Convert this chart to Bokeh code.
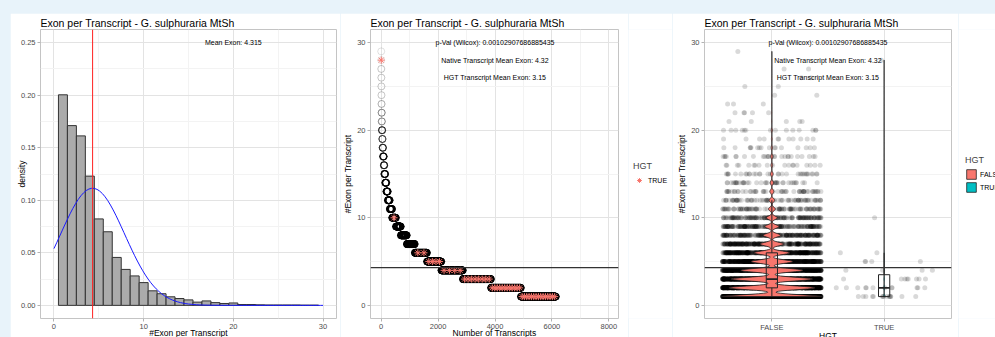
import math
import numpy as np
from bokeh.plotting import figure
from bokeh.layouts import row, column
from bokeh.models import (ColumnDataSource, Span, Label, Legend, LegendItem, FixedTicker,
                          NumeralTickFormatter, Spacer, Range1d)
from bokeh.transform import jitter
from bokeh.embed import file_html
from bokeh.resources import INLINE

# ---------------- data ----------------
exon_values = list(range(1, 30))
transcript_counts = [1230, 1050, 990, 755, 505, 430, 280, 210, 172, 133,
                     85, 68, 50, 40, 32, 19, 26, 16, 11, 14,
                     5, 5, 3, 2, 2, 2, 2, 1, 1]
hgt_exon_values = [1, 2, 3, 4, 5, 6, 10, 28]
hgt_counts = [15, 12, 8, 4, 4, 2, 1, 1]

hist_x_ticks = [0, 10, 20, 30]
hist_y_ticks = [0.0, 0.05, 0.10, 0.15, 0.20, 0.25]
rank_x_ticks = [0, 2000, 4000, 6000, 8000]
exon_y_ticks = [0, 10, 20, 30]
group_labels = ["FALSE", "TRUE"]

title_text = "Exon per Transcript - G. sulphuraria MtSh"
mean_text = "Mean Exon: 4.315"
pval_text = "p-Val (Wilcox): 0.00102907686885435"
native_text = "Native Transcript Mean Exon: 4.32"
hgt_text = "HGT Transcript Mean Exon: 3.15"

# ---------------- derived ----------------
FONT = "Liberation Sans"
RED = "#F8766D"
TEAL = "#00BFC4"
BG = "#e8f3fa"
FIG_H = 330

ev = np.array(exon_values, dtype=float)
tc = np.array(transcript_counts)
all_exons = np.repeat(ev, tc)
N = len(all_exons)
mean_all = all_exons.mean()
sd_all = all_exons.std(ddof=1)
density = tc / N

curve_x = np.linspace(0, 30, 101)
curve_y = np.exp(-0.5 * ((curve_x - mean_all) / sd_all) ** 2) / (sd_all * math.sqrt(2 * math.pi))

# ranks (sorted by exon count, descending)
desc_vals = ev[::-1]
desc_counts = tc[::-1]
rank_x = np.arange(1, N + 1)
rank_y = np.repeat(desc_vals, desc_counts)
hgt_map = dict(zip(hgt_exon_values, hgt_counts))
starts = np.concatenate([[0], np.cumsum(desc_counts)[:-1]])
hx, hy = [], []
for v, c, s in zip(desc_vals, desc_counts, starts):
    m = hgt_map.get(int(v), 0)
    for j in range(m):
        hx.append(s + 1 + int((j + 0.5) * c / m))
        hy.append(v)

false_counts = tc.copy()
for v, c in zip(hgt_exon_values, hgt_counts):
    false_counts[v - 1] -= c
false_vals = np.repeat(ev, false_counts)
true_vals = np.repeat(np.array(hgt_exon_values, dtype=float), hgt_counts)


def kde(vals, bw):
    u, c = np.unique(vals, return_counts=True)
    grid = np.linspace(vals.min(), vals.max(), 512)
    d = (c[None, :] * np.exp(-0.5 * ((grid[:, None] - u[None, :]) / bw) ** 2)).sum(axis=1)
    d = d / (len(vals) * bw * math.sqrt(2 * math.pi))
    return grid, d * len(vals)


gF, wF = kde(false_vals, 0.2)
gT, wT = kde(true_vals, 0.2)
vscale = 0.45 / max(wF.max(), wT.max())
violin_shapes = []
for center, g_, w_, col in [(1.0, gF, wF, RED), (2.0, gT, wT, TEAL)]:
    xs = np.concatenate([center - w_ * vscale, (center + w_ * vscale)[::-1]])
    ys = np.concatenate([g_, g_[::-1]])
    violin_shapes.append((xs, ys, col))


def style(p, xr, yr, xt, yt, xminor, yminor, xlab, ylab, ylab_standoff):
    p.x_range = Range1d(*xr)
    p.y_range = Range1d(*yr)
    p.xaxis.ticker = FixedTicker(ticks=xt, minor_ticks=xminor)
    p.yaxis.ticker = FixedTicker(ticks=yt, minor_ticks=yminor)
    p.outline_line_color = "#c4c4c4"
    p.outline_line_width = 1
    p.background_fill_color = "white"
    p.border_fill_color = "white"
    p.title.text = title_text
    p.title.text_font = FONT
    p.title.text_font_size = "10.5px"
    p.title.text_font_style = "normal"
    p.title.text_color = "black"
    p.title.align = "left"
    p.title.standoff = 2
    for ax in p.axis:
        ax.axis_line_color = None
        ax.major_tick_line_color = "#b3b3b3"
        ax.major_tick_out = 3
        ax.major_tick_in = 0
        ax.minor_tick_line_color = None
        ax.major_label_text_font = FONT
        ax.major_label_text_font_size = "7.5px"
        ax.major_label_text_color = "#4d4d4d"
        ax.major_label_standoff = 1
        ax.axis_label_text_font = FONT
        ax.axis_label_text_font_size = "8.5px"
        ax.axis_label_text_font_style = "normal"
        ax.axis_label_text_color = "black"
    p.xaxis.axis_label = xlab
    p.xaxis.axis_label_standoff = -4
    p.yaxis.axis_label = ylab
    p.yaxis.axis_label_standoff = ylab_standoff
    p.grid.grid_line_color = "#e3e3e3"
    p.grid.minor_grid_line_color = "#f3f3f3"


def note(p, x, y, t):
    p.add_layout(Label(x=x, y=y, text=t, text_font=FONT, text_font_size="7px",
                       text_color="black", text_align="center", text_baseline="middle"))


def legend_panel(width):
    lp = figure(width=width, height=FIG_H, output_backend="svg", toolbar_location=None,
                x_axis_location=None, y_axis_location=None, title=None,
                min_border=0, min_border_left=0, min_border_right=0,
                min_border_top=0, min_border_bottom=0,
                x_range=Range1d(0, 1), y_range=Range1d(-2, -1))
    lp.outline_line_color = None
    lp.background_fill_color = "white"
    lp.border_fill_color = "white"
    lp.grid.visible = False
    return lp


def finish_legend(lp, items, loc):
    lg = Legend(items=[LegendItem(label=lab, renderers=[r]) for lab, r in items],
                title="HGT", location=loc)
    lg.border_line_color = None
    lg.background_fill_alpha = 0
    lg.padding = 0
    lg.margin = 0
    lg.spacing = 1
    lg.glyph_width = 12
    lg.glyph_height = 12
    lg.label_height = 12
    lg.label_standoff = 3
    lg.label_text_font = FONT
    lg.label_text_font_size = "7px"
    lg.label_text_color = "black"
    lg.title_text_font = FONT
    lg.title_text_font_size = "9px"
    lg.title_text_font_style = "normal"
    lg.title_standoff = 3
    lp.add_layout(lg)


# ---------------- panel 1: histogram ----------------
p1 = figure(width=330, height=FIG_H, output_backend="svg", toolbar_location=None,
            min_border_left=30, min_border_right=4, min_border_top=15, min_border_bottom=24)
style(p1, (-1.5, 31.5), (-0.0125, 0.2625), hist_x_ticks, hist_y_ticks, [5, 15, 25],
      [0.025, 0.075, 0.125, 0.175, 0.225], "#Exon per Transcript", "density", -9)
p1.yaxis.formatter = NumeralTickFormatter(format="0.00")
hsrc = ColumnDataSource(dict(left=ev - 0.5, right=ev + 0.5, top=density, bottom=np.zeros(len(ev))))
p1.quad(left="left", right="right", top="top", bottom="bottom", source=hsrc,
        fill_color="#ababab", line_color="#333333", line_width=1)
p1.add_layout(Span(location=mean_all, dimension="height", line_color="#ff2020", line_width=1))
p1.line(curve_x, curve_y, line_color="#1a1aff", line_width=1)
note(p1, 20, 0.25, mean_text)

# ---------------- panel 2: ranked points ----------------
p2 = figure(width=288, height=FIG_H, output_backend="svg", toolbar_location=None,
            min_border_left=30, min_border_right=10, min_border_top=15, min_border_bottom=24)
style(p2, (-376, 8340), (-1.5, 31.5), rank_x_ticks, exon_y_ticks, [1000, 3000, 5000, 7000],
      [5, 15, 25], "Number of Transcripts", "#Exon per Transcript", 1)
p2.scatter(rank_x, rank_y, marker="circle", size=7, fill_color=None, line_color="black",
           line_alpha=0.15, line_width=0.8)
p2.scatter(hx, hy, marker="asterisk", size=7, line_color=RED, line_width=1)
p2.add_layout(Span(location=mean_all, dimension="width", line_color="#333333", line_width=1.3))
note(p2, 4000, 30, pval_text)
note(p2, 4000, 28, native_text)
note(p2, 4000, 26, hgt_text)

L2 = legend_panel(44)
r_l2 = L2.scatter(hx, hy, marker="asterisk", size=7, line_color=RED, line_width=1)
finish_legend(L2, [("TRUE", r_l2)], (5, 132))

# ---------------- panel 3: violin / box / jitter ----------------
p3 = figure(width=286, height=FIG_H, output_backend="svg", toolbar_location=None,
            min_border_left=32, min_border_right=7, min_border_top=15, min_border_bottom=23)
style(p3, (0.4, 2.6), (-1.5, 31.5), [1, 2], exon_y_ticks, [], [5, 15, 25],
      "HGT", "#Exon per Transcript", 1)
p3.xaxis.major_label_overrides = {1: group_labels[0], 2: group_labels[1]}

jsrc = ColumnDataSource(dict(x=np.concatenate([np.full(len(false_vals), 1.0), np.full(len(true_vals), 2.0)]),
                             y=np.concatenate([false_vals, true_vals])))
p3.scatter(x=jitter("x", width=0.88, distribution="uniform"), y="y", source=jsrc, marker="circle",
           size=5, fill_color="black", fill_alpha=0.15, line_color=None)

for xs, ys, col in violin_shapes:
    p3.patch(xs, ys, fill_color=col, line_color="#222222", line_width=0.8)

for center, vals in [(1.0, false_vals), (2.0, true_vals)]:
    q1, med, q3 = np.percentile(vals, [25, 50, 75])
    iqr = q3 - q1
    hi = vals[vals <= q3 + 1.5 * iqr].max()
    lo = vals[vals >= q1 - 1.5 * iqr].min()
    p3.segment(x0=[center, center], y0=[q3, q1], x1=[center, center], y1=[hi, lo],
               line_color="#222222", line_width=1)
    p3.quad(left=[center - 0.05], right=[center + 0.05], bottom=[q1], top=[q3],
            fill_color=None, line_color="#222222", line_width=1)
    p3.segment(x0=[center - 0.05], y0=[med], x1=[center + 0.05], y1=[med],
               line_color="#222222", line_width=1.6)

p3.add_layout(Span(location=mean_all, dimension="width", line_color="#333333", line_width=1.3))
note(p3, 1.5, 30, pval_text)
note(p3, 1.5, 28, native_text)
note(p3, 1.5, 26, hgt_text)

L3 = legend_panel(37)
l3_items = []
for lab, (xs, ys, col) in zip(group_labels, violin_shapes):
    r = L3.patch(xs, ys, fill_color=col, line_color="#222222", line_width=0.8)
    l3_items.append((lab, r))
finish_legend(L3, l3_items, (7, 125))

top_strip = Spacer(width=995, height=13, styles={"background-color": BG})
left_strip = Spacer(width=10, height=FIG_H, styles={"background-color": BG})
layout = column(top_strip, row(left_strip, p1, p2, L2, p3, L3),
                styles={"background-color": BG, "height": "337px", "overflow": "hidden"})

open("out.html", "w").write(file_html(layout, INLINE))
